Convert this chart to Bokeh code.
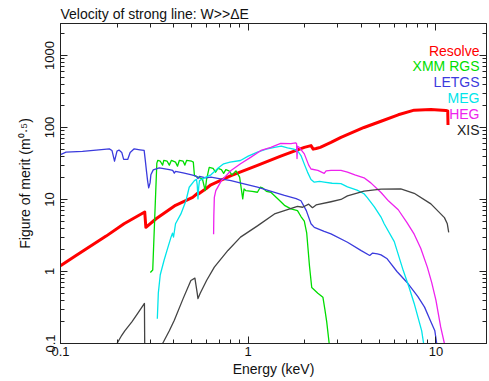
import numpy as np
from bokeh.plotting import figure
from bokeh.models import LogAxis, FixedTicker, CustomJSTickFormatter, Label
from bokeh.embed import file_html
from bokeh.resources import INLINE

# ---------------------------------------------------------------------------
# Figure of merit for the velocity of a strong line, per instrument
# (energy in keV, figure of merit in m^0.5)
# ---------------------------------------------------------------------------
resolve_e = [0.1, 0.121, 0.175, 0.218, 0.281, 0.285, 0.323, 0.41, 0.506, 0.538,
             0.545, 0.595, 0.633, 0.81, 1.12, 1.49, 1.99, 2.16, 2.22, 2.3, 2.42,
             2.76, 3.12, 4.14, 5.1, 6.3, 7.66, 9.4, 11.3, 11.56, 11.6]
resolve_fom = [1.2, 1.67, 3.1, 4.6, 6.7, 4.1, 5.4, 8.3, 10.7, 12.2,
               12.0, 14.1, 16.0, 21.5, 29.8, 40.0, 53.0, 56.0, 50.0, 51.0, 53.0,
               62.0, 73.0, 100.0, 122.0, 150.0, 174.0, 178.0, 172.0, 170.0, 108.0]

rgs_e = [0.301, 0.31, 0.318, 0.326, 0.33, 0.34, 0.35, 0.355, 0.37, 0.38, 0.39,
         0.41, 0.42, 0.43, 0.45, 0.46, 0.47, 0.5, 0.51, 0.517, 0.54, 0.57, 0.59,
         0.6, 0.62, 0.65, 0.67, 0.69, 0.72, 0.74, 0.76, 0.79, 0.82, 0.86, 0.9,
         0.935, 0.95, 0.97, 1.05, 1.12, 1.16, 1.19, 1.25, 1.32, 1.45, 1.56, 1.69,
         1.83, 1.91, 1.99, 2.05, 2.12, 2.18, 2.35, 2.5, 2.56, 2.62, 2.7, 2.72]
rgs_fom = [0.97, 1.05, 6.0, 32.0, 35.0, 34.0, 30.0, 35.0, 34.0, 30.0, 35.0,
           33.0, 29.0, 35.0, 34.0, 30.0, 35.0, 34.0, 33.0, 21.5, 20.4, 19.4, 13.3,
           19.0, 28.0, 27.0, 24.0, 27.0, 26.0, 23.0, 26.0, 25.0, 22.0, 25.0, 20.4,
           10.2, 14.0, 13.3, 13.0, 12.6, 14.8, 14.5, 13.0, 12.6, 10.0, 8.3, 7.4,
           7.0, 5.8, 5.0, 3.4, 1.2, 0.6, 0.5, 0.44, 0.3, 0.2, 0.1, 0.09]

letgs_e = [0.1, 0.107, 0.131, 0.16, 0.182, 0.188, 0.194, 0.2, 0.205, 0.212,
           0.217, 0.228, 0.235, 0.247, 0.265, 0.279, 0.283, 0.287, 0.291, 0.295,
           0.3, 0.303, 0.312, 0.336, 0.38, 0.396, 0.404, 0.41, 0.45, 0.5, 0.528,
           0.54, 0.55, 0.595, 0.633, 0.7, 0.81, 0.95, 1.12, 1.3, 1.56, 1.8, 1.91,
           2.04, 2.16, 2.25, 2.54, 2.76, 3.38, 4.0, 4.44, 4.6, 4.88, 5.1, 5.5,
           6.2, 7.1, 8.0, 8.7, 9.4, 9.87, 10.1, 10.2]
letgs_fom = [42.0, 45.5, 46.6, 49.0, 50.5, 48.0, 34.0, 47.0, 48.6, 45.0,
             36.0, 36.0, 45.0, 50.5, 49.0, 48.0, 35.0, 25.0, 18.3, 14.5,
             17.0, 22.0, 25.8, 27.5, 26.0, 25.3, 23.2, 24.5, 23.5, 22.0, 21.1,
             19.5, 21.0, 20.0, 20.4, 19.5, 18.3, 16.5, 14.8, 13.2, 11.4, 10.3, 9.6,
             7.0, 4.6, 4.1, 3.6, 3.33, 2.55, 1.95, 1.67, 1.8, 1.76, 1.7, 1.5,
             1.0, 0.68, 0.45, 0.32, 0.2, 0.15, 0.1, 0.09]

meg_e = [0.328, 0.332, 0.34, 0.356, 0.37, 0.388, 0.395, 0.4, 0.41, 0.438,
         0.466, 0.485, 0.517, 0.53, 0.535, 0.54, 0.545, 0.55, 0.595, 0.633,
         0.7, 0.74, 0.8, 0.91, 1.0, 1.12, 1.25, 1.38, 1.5, 1.62, 1.75, 1.85,
         1.91, 2.0, 2.07, 2.16, 2.25, 2.4, 2.54, 2.8, 3.12, 3.38, 3.8, 4.14,
         4.3, 4.7, 5.1, 5.3, 6.0, 6.7, 7.2, 7.66, 8.4, 8.6, 8.7]
meg_fom = [0.22, 0.5, 0.9, 1.42, 2.0, 3.0, 3.4, 3.0, 4.6, 6.3,
           9.6, 14.8, 18.3, 19.0, 16.0, 10.2, 15.0, 18.3, 20.4, 22.0,
           28.0, 31.3, 33.0, 34.8, 40.0, 45.5, 50.0, 53.0, 55.0, 52.0, 50.0, 46.0,
           40.8, 30.0, 24.0, 19.0, 17.4, 17.8, 17.4, 16.8, 16.6, 15.0, 13.5, 12.0,
           10.7, 7.9, 5.7, 4.6, 2.6, 1.03, 0.6, 0.36, 0.15, 0.1, 0.09]

heg_e = [0.654, 0.656, 0.66, 0.672, 0.72, 0.81, 0.91, 1.03, 1.17, 1.32, 1.49,
         1.69, 1.79, 1.81, 1.82, 1.83, 1.87, 1.99, 2.1, 2.16, 2.35, 2.54, 2.6,
         2.76, 3.12, 3.38, 3.7, 4.14, 4.5, 5.1, 5.6, 6.3, 7.0, 7.66, 8.3, 9.0,
         9.5, 10.0, 10.6, 11.1, 11.2]
heg_fom = [3.3, 6.0, 10.7, 13.3, 18.3, 25.3, 31.3, 38.5, 48.0, 53.0, 60.0,
           59.5, 61.0, 60.0, 37.0, 55.0, 53.0, 43.0, 30.0, 26.5, 25.3, 23.1, 25.0,
           25.3, 25.3, 24.0, 22.0, 20.0, 17.0, 12.5, 9.5, 7.2, 4.8, 3.3, 2.1, 1.15,
           0.7, 0.4, 0.17, 0.1, 0.09]

# XIS has a gap above the carbon edge: NaN splits the curve in two
xis_e = [0.2, 0.212, 0.22, 0.24, 0.26, 0.28, 0.281, float("nan"),
         0.35, 0.38, 0.404, 0.45, 0.495, 0.52, 0.535, 0.54, 0.555, 0.6, 0.66,
         0.78, 0.91, 1.12, 1.38, 1.56, 1.83, 1.95, 2.1, 2.2, 2.3, 2.76, 3.12,
         3.38, 4.14, 5.1, 6.5, 7.66, 9.4, 11.1, 11.5, 11.7]
xis_fom = [0.1, 0.13, 0.15, 0.2, 0.27, 0.36, 0.09, float("nan"),
           0.1, 0.15, 0.21, 0.42, 0.75, 0.81, 0.5, 0.42, 0.5, 0.75, 1.15,
           1.96, 3.0, 4.3, 6.3, 7.0, 8.0, 7.8, 8.6, 7.7, 8.4, 9.3, 10.0,
           11.2, 13.1, 13.9, 14.0, 12.2, 8.7, 5.6, 4.6, 3.5]

series_names = ["Resolve", "XMM RGS", "LETGS", "MEG", "HEG", "XIS"]
series_colors = ["#ff0000", "#00dd00", "#3b3bdd", "#00e5ea", "#ee22ee", "#222222"]
line_colors = ["#ff0000", "#00dd00", "#3b3bdd", "#00e5ea", "#ee22ee", "#444444"]
line_widths = [3, 1.3, 1.3, 1.3, 1.3, 1.3]
series_e = [resolve_e, rgs_e, letgs_e, meg_e, heg_e, xis_e]
series_fom = [resolve_fom, rgs_fom, letgs_fom, meg_fom, heg_fom, xis_fom]

x_major = [0.1, 1, 10]
y_major = [0.1, 1, 10, 100, 1000]

FONT = "Liberation Sans"


def minor_ticks(decades):
    return [d * k for d in decades for k in range(2, 10)]


x_ticker = FixedTicker(ticks=x_major, minor_ticks=minor_ticks([0.1, 1, 10]))
y_ticker = FixedTicker(ticks=y_major, minor_ticks=minor_ticks([0.1, 1, 10, 100, 1000]))
label_fmt = CustomJSTickFormatter(code="return String(tick);")
blank_fmt = CustomJSTickFormatter(code="return '';")

p = figure(width=489, height=381, x_axis_type="log", y_axis_type="log",
           x_range=(0.1, 18.6), y_range=(0.1, 2780),
           output_backend="svg", toolbar_location=None,
           min_border_left=60, min_border_right=3, min_border_top=23,
           min_border_bottom=38)
p.background_fill_color = "white"
p.border_fill_color = "white"
p.outline_line_color = "#222222"
p.xgrid.visible = False
p.ygrid.visible = False

p.title.text = "Velocity of strong line: W>>\u0394E"
p.title.text_font = FONT
p.title.text_font_size = "14px"
p.title.text_font_style = "normal"
p.title.text_color = "#111111"
p.title.standoff = 4


def style_axis(ax, labels=True):
    ax.axis_line_color = "#222222"
    ax.major_tick_line_color = "#222222"
    ax.minor_tick_line_color = "#222222"
    ax.major_tick_in = 7
    ax.major_tick_out = 0
    ax.minor_tick_in = 4
    ax.minor_tick_out = 0
    ax.major_label_text_font = FONT
    ax.major_label_text_color = "#111111"
    if labels:
        ax.formatter = label_fmt
        ax.major_label_text_font_size = "13px"
    else:
        ax.formatter = blank_fmt
        ax.major_label_text_font_size = "2px"
        ax.major_label_standoff = 0


def style_axis_label(ax, text, standoff):
    ax.axis_label = text
    ax.axis_label_text_font = FONT
    ax.axis_label_text_font_size = "14px"
    ax.axis_label_text_font_style = "normal"
    ax.axis_label_text_color = "#111111"
    ax.axis_label_standoff = standoff


xa = p.xaxis[0]
xa.ticker = x_ticker
style_axis(xa)
xa.major_label_standoff = 3
style_axis_label(xa, "Energy (keV)", 2)

ya = p.yaxis[0]
ya.ticker = y_ticker
style_axis(ya)
ya.major_label_orientation = "vertical"
ya.major_label_standoff = 6
style_axis_label(ya, "Figure of merit (m\u2070\u00b7\u2075)", 10)

top_axis = LogAxis(ticker=x_ticker)
style_axis(top_axis, labels=False)
p.add_layout(top_axis, "above")
right_axis = LogAxis(ticker=y_ticker)
style_axis(right_axis, labels=False)
p.add_layout(right_axis, "right")

for e, fom, col, lw in zip(series_e, series_fom, line_colors, line_widths):
    p.line(e, fom, line_color=col, line_width=lw, line_join="round")

# instrument names, stacked right-aligned in the upper right corner
for i, (name, col) in enumerate(zip(series_names, series_colors)):
    p.add_layout(Label(x=479, y=50 + i * 15.8, x_units="canvas", y_units="canvas",
                       text=name, text_color=col, text_font=FONT,
                       text_font_size="14px", text_align="right",
                       text_baseline="middle"))

open("out.html", "w").write(file_html(p, INLINE))
